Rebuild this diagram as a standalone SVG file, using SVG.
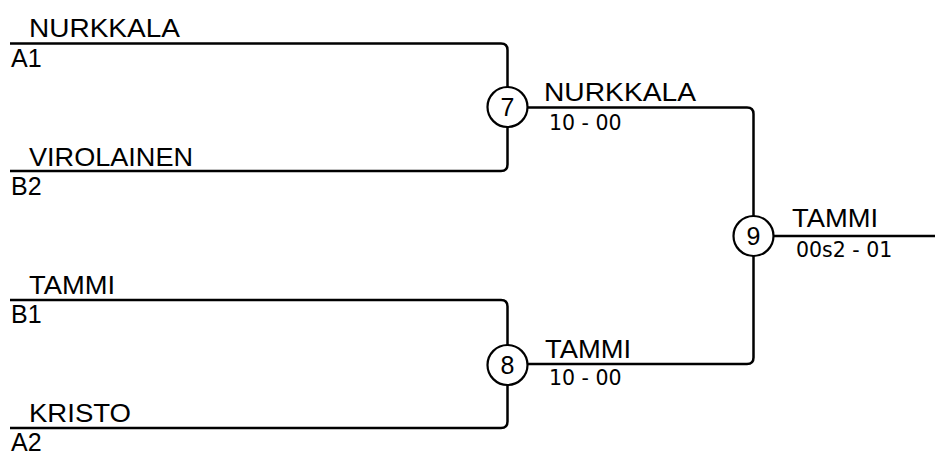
<svg xmlns="http://www.w3.org/2000/svg" width="935" height="452" viewBox="0 0 935 452">
<style>
.ln{fill:none;stroke:#000;stroke-width:2.5}
.c{fill:#fff;stroke:#000;stroke-width:2.2}
.n{font-family:"Liberation Sans",Arial,sans-serif;font-size:25px;fill:#000}
.s{font-family:"DejaVu Sans",sans-serif;font-size:20.5px;fill:#000}
.cn{font-family:"Liberation Sans",Arial,sans-serif;font-size:25px;fill:#000;text-anchor:middle}
</style>
<rect width="935" height="452" fill="#fff"/>
<g id="connectors">
<path class="ln" d="M10,43.5 H501 Q507.5,43.5 507.5,50 V164.5 Q507.5,171 501,171 H10"/>
<path class="ln" d="M10,300 H501 Q507.5,300 507.5,306.5 V421.5 Q507.5,428 501,428 H10"/>
<path class="ln" d="M527,107.5 H747 Q753.5,107.5 753.5,114 V357.5 Q753.5,364 747,364 H527"/>
<path class="ln" d="M774,236 H935"/>
</g>
<g id="p1"><text class="n" x="29" y="37" textLength="151" lengthAdjust="spacingAndGlyphs">NURKKALA</text><text class="n" x="11" y="67">A1</text></g>
<g id="p2"><text class="n" x="29" y="166" textLength="164" lengthAdjust="spacingAndGlyphs">VIROLAINEN</text><text class="n" x="11" y="195">B2</text></g>
<g id="p3"><text class="n" x="29" y="294" textLength="86" lengthAdjust="spacingAndGlyphs">TAMMI</text><text class="n" x="11" y="323">B1</text></g>
<g id="p4"><text class="n" x="29" y="422" textLength="102" lengthAdjust="spacingAndGlyphs">KRISTO</text><text class="n" x="11" y="451">A2</text></g>
<g id="m7"><circle class="c" cx="507.5" cy="107" r="20"/><text class="cn" x="507.5" y="116">7</text>
<text class="n" x="544" y="101" textLength="152" lengthAdjust="spacingAndGlyphs">NURKKALA</text><text class="s" x="549" y="130">10 - 00</text></g>
<g id="m8"><circle class="c" cx="507.5" cy="365" r="20"/><text class="cn" x="507.5" y="374">8</text>
<text class="n" x="545" y="358" textLength="86" lengthAdjust="spacingAndGlyphs">TAMMI</text><text class="s" x="549" y="385">10 - 00</text></g>
<g id="m9"><circle class="c" cx="753.5" cy="236" r="20"/><text class="cn" x="753.5" y="245">9</text>
<text class="n" x="792" y="227" textLength="86" lengthAdjust="spacingAndGlyphs">TAMMI</text><text class="s" x="796" y="257">00s2 - 01</text></g>
</svg>
